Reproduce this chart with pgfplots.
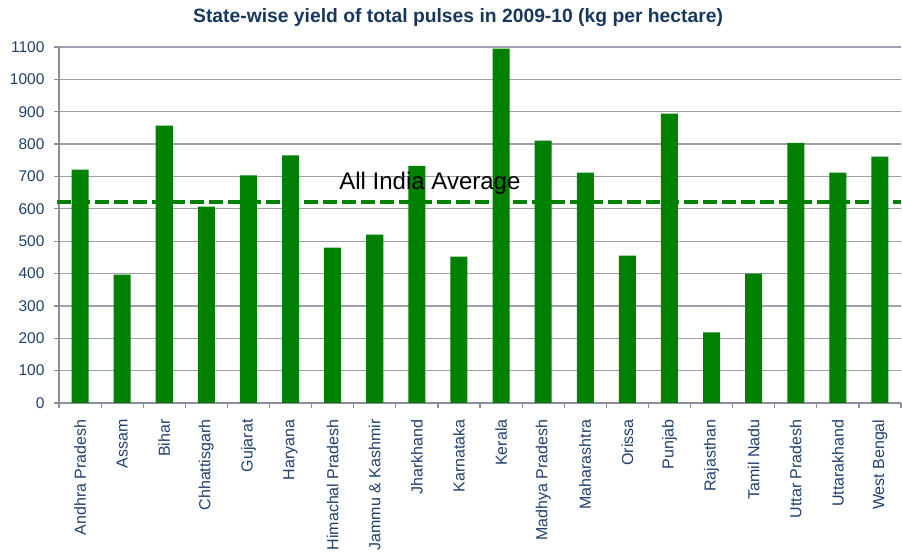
\documentclass[border=0pt]{standalone}
\usepackage{pgfplots}
\pgfplotsset{compat=1.18}
\usepackage{pgfplotstable}
\usepackage{fontspec}
\setmainfont{Liberation Sans}
\definecolor{barg}{RGB}{0,128,0}
\definecolor{tickblue}{RGB}{31,64,110}
\definecolor{titleblue}{RGB}{23,55,94}
\definecolor{gridc}{RGB}{156,160,176}
\definecolor{axisc}{RGB}{140,142,156}
\pgfplotstableread{
x y
0 721
1 397
2 857
3 607
4 703
5 765
6 480
7 520
8 733
9 452
10 1095
11 811
12 712
13 455
14 894
15 218
16 400
17 804
18 712
19 761
}\yield
\begin{document}
\begin{tikzpicture}
\path[use as bounding box] (0,0) rectangle (902pt,554pt);
\begin{axis}[
  at={(59pt,151pt)}, anchor=south west,
  scale only axis, width=842pt, height=356pt,
  xmin=-0.5, xmax=19.5, ymin=0, ymax=1100,
  clip=false,
  ytick={0,100,...,1100},
  xtick={-0.5,0.5,...,19.5}, xticklabels={},
  extra x ticks={0,1,...,19},
  extra x tick labels={Andhra Pradesh,Assam,Bihar,Chhattisgarh,Gujarat,Haryana,Himachal Pradesh,Jammu \& Kashmir,Jharkhand,Karnataka,Kerala,Madhya Pradesh,Maharashtra,Orissa,Punjab,Rajasthan,Tamil Nadu,Uttar Pradesh,Uttarakhand,West Bengal},
  extra x tick style={major tick length=0pt},
  xticklabel style={yshift=-13pt, rotate=90, anchor=east, font=\fontsize{16}{16}\selectfont, text=tickblue},
  yticklabel style={xshift=-6pt, font=\fontsize{15.5}{15.5}\selectfont, text=tickblue},
  /pgf/number format/assume math mode=true,
  /pgf/number format/1000 sep={},
  axis x line*=bottom, axis y line*=left,
  axis line style={axisc, line width=1.2pt, -},
  tick style={axisc, line width=1.2pt},
  tick align=outside, major tick length=5pt,
  ymajorgrids, grid style={gridc, line width=1.2pt},
  title={State-wise yield of total pulses in 2009-10 (kg per hectare)},
  title style={font=\fontsize{19.3}{21}\selectfont\bfseries, text=titleblue, at={(0.474,1)}, anchor=center, yshift=23pt},
]
\addplot[ybar, bar width=0.404, fill=barg, draw=none] table[x=x,y=y] {\yield};
\addplot[barg, line width=4.5pt, dash pattern=on 14pt off 5pt] coordinates {(-0.55,621) (19.5,621)};
\node[anchor=base, font=\fontsize{24}{24}\selectfont, text=black] at (axis cs:8.31,659) {All India Average};
\end{axis}
\end{tikzpicture}
\end{document}
